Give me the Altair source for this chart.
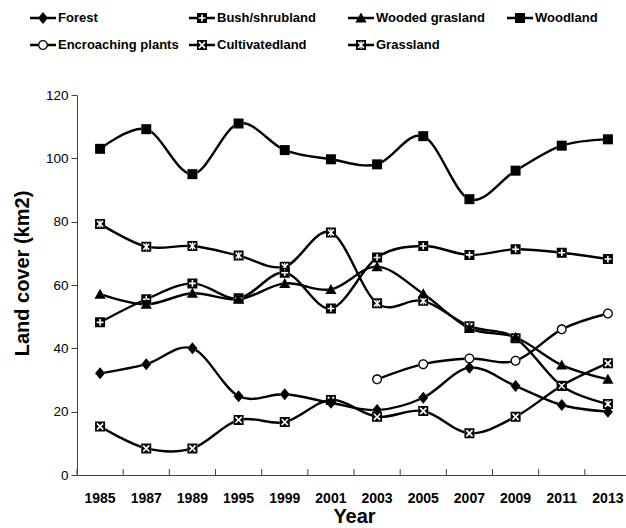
import altair as alt
import pandas as pd

# ---- data -------------------------------------------------------------
years = ["1985", "1987", "1989", "1995", "1999", "2001",
         "2003", "2005", "2007", "2009", "2011", "2013"]

series_order = ["Forest", "Bush/shrubland", "Wooded grasland", "Woodland",
                "Encroaching plants", "Cultivatedland", "Grassland"]

forest = [32.1, 35.0, 40.0, 24.9, 25.5, 22.8, 20.5, 24.4, 33.9, 28.1, 22.1, 20.0]
bush_shrubland = [48.2, 55.5, 60.5, 55.8, 63.9, 52.6, 68.7, 72.3, 69.5, 71.3, 70.2, 68.2]
wooded_grasland = [57.1, 53.9, 57.4, 55.5, 60.5, 58.6, 65.8, 57.2, 46.3, 43.5, 34.7, 30.2]
woodland = [103.0, 109.2, 95.0, 111.0, 102.6, 99.7, 98.1, 107.0, 87.1, 96.1, 104.0, 106.0]
encroaching_plants = [None, None, None, None, None, None, 30.2, 35.0, 36.8, 36.1, 46.0, 51.0]
cultivatedland = [15.3, 8.4, 8.4, 17.4, 16.7, 23.7, 18.4, 20.2, 13.2, 18.4, 28.2, 35.3]
grassland = [79.3, 72.1, 72.3, 69.3, 65.8, 76.6, 54.2, 55.0, 47.0, 43.2, 28.1, 22.4]

series_values = [forest, bush_shrubland, wooded_grasland, woodland,
                 encroaching_plants, cultivatedland, grassland]

rows = []
for name, vals in zip(series_order, series_values):
    for yr, v in zip(years, vals):
        if v is not None:
            rows.append({"year": yr, "series": name, "value": v})
df = pd.DataFrame(rows)
year_df = pd.DataFrame({"year": years})

# ---- marker glyphs (custom symbol paths, 1 unit = 10 px at size 400) --
def poly(pts):
    return "M" + "L".join(f"{x:.3f},{y:.3f}" for x, y in pts) + "Z"

def rect(x0, y0, x1, y1):
    return poly([(x0, y0), (x1, y0), (x1, y1), (x0, y1)])

def circle(r, clockwise=True):
    f = 1 if clockwise else 0
    return (f"M{r},0A{r},{r},0,1,{f},{-r},0A{r},{r},0,1,{f},{r},0Z")

def plus_pts(a, t):
    return [(-t, -a), (t, -a), (t, -t), (a, -t), (a, t), (t, t),
            (t, a), (-t, a), (-t, t), (-a, t), (-a, -t), (-t, -t)]

def x_pts(a, s):
    return [(0, -2 * s), (a - s, -a - s), (a + s, -a + s), (2 * s, 0),
            (a + s, a - s), (a - s, a + s), (0, 2 * s), (-a + s, a + s),
            (-a - s, a - s), (-2 * s, 0), (-a - s, -a + s), (-a + s, -a - s)]

def star_pts(a, s, tv, av):
    return [(-tv, -av), (tv, -av), (tv, -2 * s - tv), (a - s, -a - s),
            (a + s, -a + s), (2 * s, 0), (a + s, a - s), (a - s, a + s),
            (tv, 2 * s + tv), (tv, av), (-tv, av), (-tv, 2 * s + tv),
            (-a + s, a + s), (-a - s, a - s), (-2 * s, 0), (-a - s, -a + s),
            (-a + s, -a - s), (-tv, -2 * s - tv)]

def hole(pts):
    return poly(list(reversed(pts)))

SQ = 0.5
outer = {
    "Forest": poly([(0, -0.6), (0.5, 0), (0, 0.6), (-0.5, 0)]),
    "Bush/shrubland": rect(-SQ, -SQ, SQ, SQ),
    "Wooded grasland": poly([(0, -0.55), (0.56, 0.45), (-0.56, 0.45)]),
    "Woodland": rect(-SQ, -SQ, SQ, SQ),
    "Encroaching plants": circle(0.5),
    "Cultivatedland": rect(-SQ, -SQ, SQ, SQ),
    "Grassland": rect(-SQ, -SQ, SQ, SQ),
}
glyph = {
    "Forest": outer["Forest"],
    "Bush/shrubland": outer["Bush/shrubland"] + hole(plus_pts(0.34, 0.08)),
    "Wooded grasland": outer["Wooded grasland"],
    "Woodland": outer["Woodland"],
    "Encroaching plants": circle(0.5) + circle(0.37, clockwise=False),
    "Cultivatedland": outer["Cultivatedland"] + hole(x_pts(0.31, 0.06)),
    "Grassland": outer["Grassland"] + hole(star_pts(0.30, 0.055, 0.06, 0.37)),
}

BAR_T = 0.12
BAR_L = 1.3
full_bar = rect(-BAR_L, -BAR_T, BAR_L, BAR_T)

def side_bars(h):
    return rect(-BAR_L, -BAR_T, -h, BAR_T) + rect(h, -BAR_T, BAR_L, BAR_T)

legend_glyph = {
    "Forest": full_bar + glyph["Forest"],
    "Bush/shrubland": side_bars(SQ) + glyph["Bush/shrubland"],
    "Wooded grasland": full_bar + glyph["Wooded grasland"],
    "Woodland": full_bar + glyph["Woodland"],
    "Encroaching plants": side_bars(0.45) + glyph["Encroaching plants"],
    "Cultivatedland": side_bars(SQ) + glyph["Cultivatedland"],
    "Grassland": side_bars(SQ) + glyph["Grassland"],
}

# ---- layout constants ------------------------------------------------
PLOT_W = 549
PLOT_H = 380
BAND_RANGE = [0, 554]
FONT = "Liberation Sans, Arial, sans-serif"
AXIS_GREY = "#444444"

x_scale = alt.Scale(type="band", domain=years, range=BAND_RANGE,
                    paddingInner=0, paddingOuter=0)
y_scale = alt.Scale(domain=[0, 120], nice=False, zero=True)

base = alt.Chart(df)

y_enc = alt.Y(
    "value:Q",
    scale=y_scale,
    axis=alt.Axis(
        values=[0, 20, 40, 60, 80, 100, 120], grid=False,
        tickSize=6, tickColor=AXIS_GREY, domainColor=AXIS_GREY,
        labelFont=FONT, labelFontSize=13.5, labelColor="black", labelPadding=3,
        title="Land cover (km2)", titleFont=FONT, titleFontSize=20,
        titleFontWeight="bold", titleColor="black", titleAngle=270,
        titleX=-55, titleY=178, titleAlign="center", titleBaseline="middle",
    ),
)

lines = base.mark_line(interpolate="cardinal", color="black", strokeWidth=2.4).encode(
    x=alt.X(
        "year:O", bandPosition=0.5, scale=x_scale, sort=years,
        axis=alt.Axis(
            labelAngle=0, ticks=False, tickSize=0, grid=False,
            domainColor=AXIS_GREY, labelFont=FONT, labelFontSize=14,
            labelFontWeight="bold", labelColor="black", labelPadding=16,
            labelBaseline="top",
            title="Year", titleFont=FONT, titleFontSize=20,
            titleFontWeight="bold", titleColor="black",
            titleX=277, titleY=47, titleBaseline="alphabetic",
        ),
    ),
    y=y_enc,
    detail="series:N",
)

x_plain = alt.X("year:O", bandPosition=0.5, scale=x_scale, sort=years, axis=None)

# short inward ticks at the left edge of every year band
band_ticks = alt.Chart(year_df).mark_rule(color=AXIS_GREY, strokeWidth=1).encode(
    x=alt.X("year:O", bandPosition=0, scale=x_scale, sort=years, axis=None),
    y=alt.value(PLOT_H),
    y2=alt.value(PLOT_H - 6),
)

backing = base.mark_point(filled=True, color="white", size=400, opacity=1,
                          strokeWidth=0).encode(
    x=x_plain,
    y=alt.Y("value:Q", scale=y_scale),
    shape=alt.Shape("series:N", legend=None,
                    scale=alt.Scale(domain=series_order,
                                    range=[outer[s] for s in series_order])),
)

markers = base.mark_point(filled=True, color="black", size=400, opacity=1,
                          strokeWidth=0).encode(
    x=x_plain,
    y=alt.Y("value:Q", scale=y_scale),
    shape=alt.Shape("series:N", legend=None,
                    scale=alt.Scale(domain=series_order,
                                    range=[glyph[s] for s in series_order])),
)

# invisible layer carrying the legend
legend_layer = base.mark_point(filled=True, color="black", size=400, opacity=0,
                               strokeWidth=0).encode(
    x=x_plain,
    y=alt.Y("value:Q", scale=y_scale),
    shape=alt.Shape(
        "series:N",
        scale=alt.Scale(domain=series_order,
                        range=[legend_glyph[s] for s in series_order]),
        legend=alt.Legend(
            title=None, orient="none", legendX=-44, legendY=-87,
            direction="horizontal", columns=4, gridAlign="all",
            columnPadding=10, rowPadding=10, padding=0,
            symbolSize=400, symbolOpacity=1, symbolFillColor="black",
            symbolStrokeWidth=0, symbolStrokeColor="black",
            labelFont=FONT, labelFontSize=13, labelFontWeight="bold",
            labelColor="black", labelOffset=5, labelLimit=300,
        ),
    ),
)

chart = (
    alt.layer(lines, band_ticks, backing, markers, legend_layer)
    .resolve_scale(shape="independent")
    .resolve_axis(x="independent")
    .resolve_legend(shape="independent")
    .properties(
        width=PLOT_W, height=PLOT_H,
        autosize=alt.AutoSizeParams(type="none"),
        padding={"left": 77, "top": 95, "right": 0, "bottom": 53},
        background="white",
    )
    .configure_view(strokeWidth=0)
)

chart.save("out.html", embed_options={"renderer": "svg", "actions": False})
